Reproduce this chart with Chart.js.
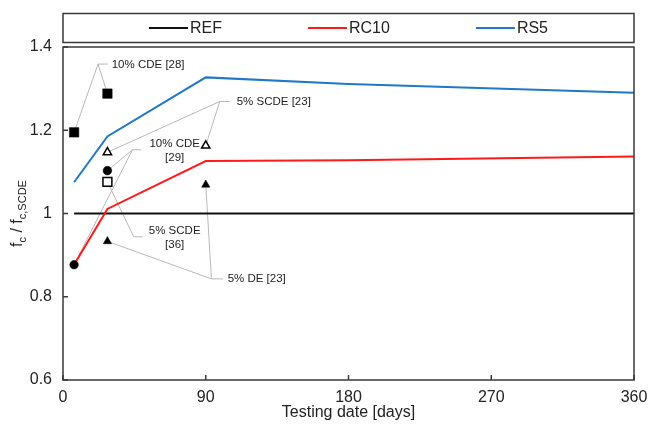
<!DOCTYPE html>
<html>
<head>
<meta charset="utf-8">
<script src="https://cdn.jsdelivr.net/npm/chart.js@4.4.1/dist/chart.umd.min.js"></script>
<style>
  html, body { margin: 0; padding: 0; background: #fff; }
  canvas { display: block; }
</style>
</head>
<body>
<canvas id="chart" width="649" height="428"></canvas>
<script>
// series (testing date in days vs strength ratio)
const days = [7, 28, 90, 180, 360];
const seriesNames = ["REF", "RC10", "RS5"];
const refValues = [1, 1, 1, 1, 1];
const rc10Values = [0.877, 1.011, 1.126, 1.128, 1.137];
const rs5Values = [1.075, 1.185, 1.327, 1.311, 1.290];
const seriesColors = ["#111111", "#ff1a1a", "#1f78c8"];

// literature points
const cde28Days = [7, 28],  cde28Values = [1.195, 1.288];
const scde23Days = [28, 90], scde23Values = [1.147, 1.163];
const cde29Days = [7, 28],  cde29Values = [0.877, 1.103];
const scde36Days = [28],     scde36Values = [1.076];
const de23Days = [28, 90],   de23Values = [0.933, 1.069];

const xTicks = [0, 90, 180, 270, 360];
const yTicks = [0.6, 0.8, 1, 1.2, 1.4];
const yTickLabels = ["0.6", "0.8", "1", "1.2", "1.4"];

const FONT = '"Liberation Sans", Arial, sans-serif';
const AXIS = "#3a3a3a";

const pts = (xs, ys) => xs.map((x, i) => ({ x: x, y: ys[i] }));

// callout labels, placed in data units
const callouts = [
  { set: 0, lines: ["10% CDE [28]"], align: "left", text: [30.7, 1.357], kink: [22.1, 1.359], end: [28.2, 1.359] },
  { set: 1, lines: ["5% SCDE [23]"], align: "left", text: [109.5, 1.269], kink: [98.8, 1.269], end: [105.1, 1.269] },
  { set: 2, lines: ["10% CDE", "[29]"], align: "center", text: [70.4, 1.168], kink: [43.8, 1.153], end: [49.4, 1.153] },
  { set: 3, lines: ["5% SCDE", "[36]"], align: "center", text: [70.4, 0.959], kink: [44.6, 0.944], end: [50.4, 0.944] },
  { set: 4, lines: ["5% DE [23]"], align: "left", text: [103.8, 0.843], kink: [93.6, 0.843], end: [100.9, 0.843] }
];

const decorPlugin = {
  id: "decor",
  beforeDatasetsDraw(chart) {
    const { ctx, scales: { x, y } } = chart;
    ctx.save();
    ctx.strokeStyle = "#b8b8b8";
    ctx.lineWidth = 1;
    callouts.forEach(c => {
      const kx = x.getPixelForValue(c.kink[0]), ky = y.getPixelForValue(c.kink[1]);
      ctx.beginPath();
      ctx.moveTo(x.getPixelForValue(c.end[0]), y.getPixelForValue(c.end[1]));
      ctx.lineTo(kx, ky);
      chart.data.datasets[c.set].data.forEach(p => {
        ctx.moveTo(kx, ky);
        ctx.lineTo(x.getPixelForValue(p.x), y.getPixelForValue(p.y));
      });
      ctx.stroke();
    });
    ctx.restore();
  },
  afterDraw(chart) {
    const { ctx, chartArea: a, scales: { x, y } } = chart;
    ctx.save();
    // frame of plot area
    ctx.strokeStyle = AXIS;
    ctx.lineWidth = 1.5;
    ctx.strokeRect(a.left, a.top, a.right - a.left, a.bottom - a.top);
    // inward ticks
    ctx.beginPath();
    xTicks.forEach(v => {
      const px = x.getPixelForValue(v);
      ctx.moveTo(px, a.bottom); ctx.lineTo(px, a.bottom - 5);
    });
    yTicks.forEach(v => {
      const py = y.getPixelForValue(v);
      ctx.moveTo(a.left, py); ctx.lineTo(a.left + 5, py);
    });
    ctx.stroke();

    // legend box
    const lt = 13.5, lb = 42.5;
    ctx.strokeRect(a.left, lt, a.right - a.left, lb - lt);
    ctx.font = "16px " + FONT;
    ctx.textBaseline = "middle";
    ctx.textAlign = "left";
    const lineLen = 39, gapTxt = 2, itemGap = 86;
    const widths = seriesNames.map(n => lineLen + gapTxt + ctx.measureText(n).width);
    const total = widths.reduce((s, w) => s + w, 0) + itemGap * (seriesNames.length - 1);
    let lx = (a.left + a.right) / 2 - total / 2;
    const ly = (lt + lb) / 2;
    seriesNames.forEach((n, i) => {
      ctx.strokeStyle = seriesColors[i];
      ctx.lineWidth = 2;
      ctx.beginPath(); ctx.moveTo(lx, ly); ctx.lineTo(lx + lineLen, ly); ctx.stroke();
      ctx.fillStyle = "#222";
      ctx.fillText(n, lx + lineLen + gapTxt, ly + 1);
      lx += widths[i] + itemGap;
    });

    // callout texts
    ctx.fillStyle = "#222";
    ctx.font = "11.5px " + FONT;
    callouts.forEach(c => {
      ctx.textAlign = c.align;
      const tx = x.getPixelForValue(c.text[0]);
      const ty = y.getPixelForValue(c.text[1]);
      c.lines.forEach((t, i) => ctx.fillText(t, tx, ty + i * 14.5));
    });

    // axis titles
    ctx.font = "16px " + FONT;
    ctx.textAlign = "center";
    ctx.fillText("Testing date [days]", (a.left + a.right) / 2, 413);

    ctx.translate(16, (a.top + a.bottom) / 2);
    ctx.rotate(-Math.PI / 2);
    const parts = [["f", 16, 0], ["c", 11, 4], [" / f", 16, 0], ["c,SCDE", 11, 4]];
    let tw = 0;
    parts.forEach(p => { ctx.font = p[1] + "px " + FONT; tw += ctx.measureText(p[0]).width; });
    let px = -tw / 2;
    ctx.textAlign = "left";
    ctx.textBaseline = "alphabetic";
    parts.forEach(p => {
      ctx.font = p[1] + "px " + FONT;
      ctx.fillText(p[0], px, 6 + p[2]);
      px += ctx.measureText(p[0]).width;
    });
    ctx.restore();
  }
};

const lineSet = (label, values, color) => ({
  type: "line", label: label, data: pts(days, values),
  borderColor: color, borderWidth: 2, pointRadius: 0, fill: false, tension: 0
});
const markSet = (label, xs, ys, style, r, fill) => ({
  type: "scatter", label: label, data: pts(xs, ys),
  pointStyle: style, pointRadius: r, pointHoverRadius: r,
  pointBackgroundColor: fill, pointBorderColor: "#000", pointBorderWidth: fill === "#fff" ? 1.5 : 0.5
});

new Chart(document.getElementById("chart"), {
  data: {
    datasets: [
      markSet("10% CDE [28]", cde28Days, cde28Values, "rect", 6.7, "#000"),
      markSet("5% SCDE [23]", scde23Days, scde23Values, "triangle", 4.8, "#fff"),
      markSet("10% CDE [29]", cde29Days, cde29Values, "circle", 4.3, "#000"),
      markSet("5% SCDE [36]", scde36Days, scde36Values, "rect", 6.3, "#fff"),
      markSet("5% DE [23]", de23Days, de23Values, "triangle", 4.8, "#000"),
      lineSet(seriesNames[1], rc10Values, seriesColors[1]),
      lineSet(seriesNames[2], rs5Values, seriesColors[2]),
      lineSet(seriesNames[0], refValues, seriesColors[0])
    ]
  },
  options: {
    responsive: false,
    animation: false,
    layout: { padding: { left: 0, right: 0, top: 47, bottom: 0 } },
    plugins: { legend: { display: false }, tooltip: { enabled: false } },
    scales: {
      x: {
        type: "linear", min: 0, max: 360,
        afterFit: s => { s.height = 48; s.paddingRight = 15; s.paddingLeft = 0; },
        afterBuildTicks: s => { s.ticks = xTicks.map(v => ({ value: v })); },
        grid: { display: false, drawTicks: false },
        border: { display: false },
        ticks: { padding: 8, color: "#222", font: { family: FONT, size: 16 }, maxRotation: 0 }
      },
      y: {
        type: "linear", min: 0.6, max: 1.4,
        afterFit: s => { s.width = 63; s.paddingTop = 0; s.paddingBottom = 0; },
        afterBuildTicks: s => { s.ticks = yTicks.map(v => ({ value: v })); },
        grid: { display: false, drawTicks: false },
        border: { display: false },
        ticks: {
          padding: 11, color: "#222", font: { family: FONT, size: 16 },
          callback: v => yTickLabels[yTicks.indexOf(v)]
        }
      }
    }
  },
  plugins: [decorPlugin]
});
</script>
</body>
</html>
